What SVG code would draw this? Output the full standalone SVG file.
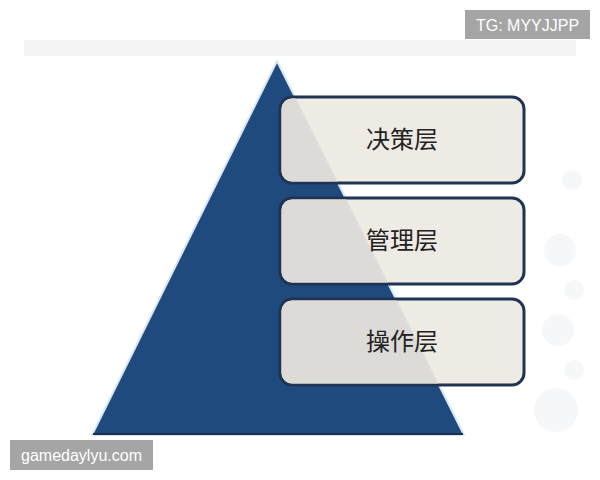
<svg xmlns="http://www.w3.org/2000/svg" width="600" height="480" viewBox="0 0 600 480">
<defs>
<style>
.box{fill:#eeebe4;stroke:#1e3452;stroke-width:3}
.lbl{font-family:"Noto Sans CJK SC","Liberation Sans",sans-serif;font-size:24px;fill:#222;text-anchor:middle}
.wm{fill:#a5a5a5}
.wmt{font-family:"Liberation Sans",Arial,sans-serif;font-size:16px;fill:#ffffff}
.dot{fill:#f6f7f8}
</style>
<clipPath id="tri"><polygon points="277,61 92,435 464,435"/></clipPath>
</defs>
<rect width="600" height="480" fill="#ffffff"/>
<rect x="24" y="40" width="552" height="16" fill="#f3f3f3"/>
<g id="bg-dots">
<circle class="dot" cx="572" cy="180" r="10"/>
<circle class="dot" cx="560" cy="250" r="16"/>
<circle class="dot" cx="574" cy="290" r="10"/>
<circle class="dot" cx="558" cy="330" r="16"/>
<circle class="dot" cx="574" cy="370" r="10"/>
<circle class="dot" cx="556" cy="410" r="22"/>
</g>
<g id="pyramid">
<polygon points="277,61 92,435 464,435" fill="#1f4a7e" stroke="#d8e6f2" stroke-width="2" stroke-linejoin="round"/>
<line x1="93" y1="434" x2="463" y2="434" stroke="#1a2f4d" stroke-width="2"/>
</g>
<g id="node-decision">
<rect class="box" x="280" y="97" width="244" height="86" rx="12"/>
<rect x="281.5" y="98.5" width="241" height="83" rx="11" fill="#dcdbd7" clip-path="url(#tri)"/>
<text class="lbl" x="402" y="148">决策层</text>
</g>
<g id="node-management">
<rect class="box" x="280" y="198" width="244" height="86" rx="12"/>
<rect x="281.5" y="199.5" width="241" height="83" rx="11" fill="#dcdbd7" clip-path="url(#tri)"/>
<text class="lbl" x="402" y="249">管理层</text>
</g>
<g id="node-operation">
<rect class="box" x="280" y="299" width="244" height="86" rx="12"/>
<rect x="281.5" y="300.5" width="241" height="83" rx="11" fill="#dcdbd7" clip-path="url(#tri)"/>
<text class="lbl" x="402" y="350">操作层</text>
</g>
<g id="connectors"></g>
<g id="watermark-tg">
<rect class="wm" x="465" y="10" width="125" height="29"/>
<text class="wmt" x="527.5" y="30.5" text-anchor="middle">TG: MYYJJPP</text>
</g>
<g id="watermark-site">
<rect class="wm" x="10" y="440" width="143" height="30"/>
<text class="wmt" x="81.5" y="461" text-anchor="middle">gamedaylyu.com</text>
</g>
</svg>
